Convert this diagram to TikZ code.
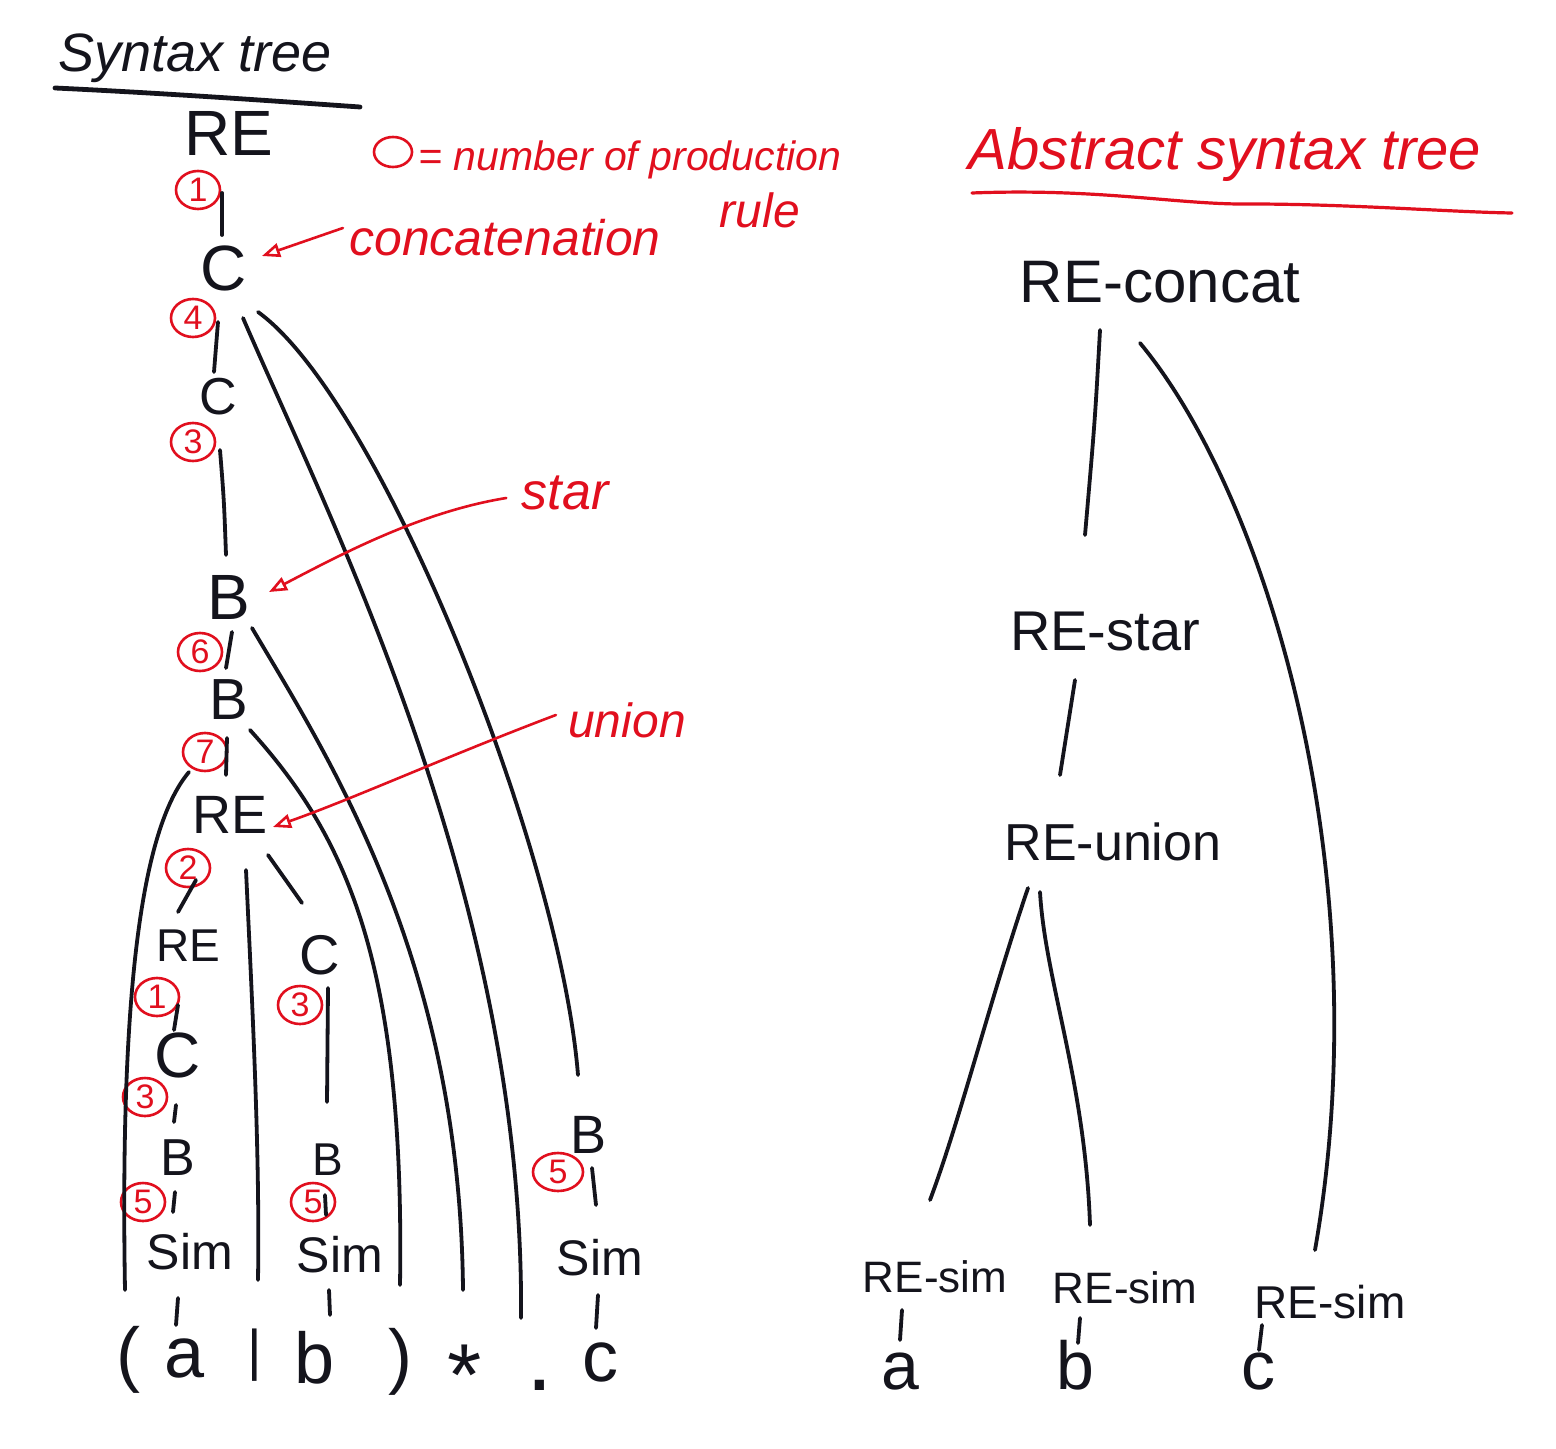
\documentclass[tikz,border=0pt]{standalone}
\usepackage{fontspec}
\setmainfont{Liberation Sans}
\usetikzlibrary{calc,arrows.meta,shapes.geometric}
\definecolor{pen}{RGB}{20,20,28}
\definecolor{redpen}{RGB}{225,15,30}
\newcommand\myfs[1]{\fontsize{#1pt}{#1pt}\selectfont}
\tikzset{
  blk/.style={inner sep=0pt, text=pen, font=\myfs{28}},
  tok/.style={inner sep=0pt, text=pen, font=\myfs{36}},
  note/.style={inner sep=0pt, text=redpen, font=\itshape\myfs{24}},
  titletext/.style={inner sep=0pt, text=pen, font=\itshape\myfs{27}},
  num/.style={ellipse, draw=redpen, line width=1.3pt, text=redpen, font=\myfs{17},
              inner sep=0pt, minimum width=22pt, minimum height=19pt},
  edge/.style={draw=pen, line width=1.9pt, line cap=round},
  redarrow/.style={draw=redpen, line width=1.3pt, line cap=round,
                   -{Triangle[open,length=9pt,width=7pt]}}
}
\begin{document}
\begin{tikzpicture}[x=0.5pt,y=-0.5pt]
\useasboundingbox (0,0) rectangle (1556,1449);
\fill[white] (0,0) rectangle (1556,1449);

% ---------------- Syntax tree ----------------
\node[titletext] (t1) at (195,58) {Syntax tree};
\draw[pen, line width=2.4pt, line cap=round] (55,88) .. controls (160,93) and (260,100) .. (360,107);

\node[blk, font=\myfs{32}] (RE0) at (229,133) {RE};
\node[num] (n1) at (198,190) {1};
\node[blk, font=\myfs{32}] (C1) at (224,268) {C};
\node[num] (n4) at (193,318) {4};
\node[blk, font=\myfs{26}] (C2) at (218,397) {C};
\node[num] (n3a) at (193,442) {3};
\node[blk, font=\myfs{32}] (B1) at (229,597) {B};
\node[num] (n6) at (200,652) {6};
\node[blk, font=\myfs{29}] (B2) at (229,700) {B};
\node[num] (n7) at (205,752) {7};
\node[blk, font=\myfs{27}] (RE2) at (230,815) {RE};
\node[num] (n2) at (188,868) {2};
\node[blk, font=\myfs{23}] (RE3) at (188,946) {RE};
\node[num] (n1b) at (157,997) {1};
\node[blk, font=\myfs{32}] (C4) at (178,1055) {C};
\node[num] (n3b) at (145,1097) {3};
\node[blk, font=\myfs{26}] (B4) at (178,1158) {B};
\node[num] (n5a) at (143,1202) {5};
\node[blk, font=\myfs{25}] (Sim1) at (190,1252) {Sim};
\node[blk, font=\myfs{28}] (C3) at (320,955) {C};
\node[num] (n3c) at (300,1005) {3};
\node[blk, font=\myfs{23}] (B5) at (328,1160) {B};
\node[num] (n5b) at (313,1202) {5};
\node[blk, font=\myfs{25}] (Sim2) at (340,1255) {Sim};
\node[blk, font=\myfs{27}] (B3) at (588,1135) {B};
\node[num, minimum width=25pt] (n5c) at (558,1172) {5};
\node[blk, font=\myfs{25}] (Sim3) at (600,1258) {Sim};

% leaves
\node[tok] (lp) at (128,1360) {(};
\node[tok] (la) at (185,1358) {a};
\node[tok, font=\myfs{28}] (lbar) at (255,1355) {|};
\node[tok] (lb) at (315,1358) {b};
\node[tok] (rp) at (400,1362) {)};
\node[tok, font=\myfs{44}] (lstar) at (465,1375) {*};
\node[tok, font=\myfs{48}] (ldot) at (540,1385) {.};
\node[tok] (lc) at (600,1362) {c};

% straight edges
\draw[edge] ($(RE0)+(-7,60)$) -- ($(C1)+(-2,-33)$);
\draw[edge] ($(C1)+(-6,54)$) -- ($(C2)+(-4,-25)$);
\draw[edge] ($(C2)+(2,53)$) .. controls (224,500) .. ($(B1)+(-3,-42)$);
\draw[edge] ($(B1)+(3,35)$) -- ($(B2)+(-3,-32)$);
\draw[edge] ($(B2)+(-2,38)$) -- ($(RE2)+(-4,-40)$);
\draw[edge] ($(RE2)+(-34,65)$) -- ($(RE3)+(-10,-34)$);
\draw[edge] ($(RE2)+(16,55)$) .. controls (252,1000) and (260,1150) .. ($(lbar)+(3,-75)$);
\draw[edge] ($(RE2)+(38,40)$) -- ($(C3)+(-18,-52)$);
\draw[edge] ($(RE3)+(-10,59)$) -- ($(C4)+(-4,-25)$);
\draw[edge] ($(C4)+(-2,50)$) -- ($(B4)+(-4,-36)$);
\draw[edge] ($(B4)+(-3,34)$) -- ($(Sim1)+(-17,-40)$);
\draw[edge] ($(Sim1)+(-12,46)$) -- ($(la)+(-9,-33)$);
\draw[edge] ($(C3)+(8,33)$) -- ($(B5)+(-1,-58)$);
\draw[edge] ($(B5)+(-3,35)$) -- ($(Sim2)+(-14,-40)$);
\draw[edge] ($(Sim2)+(-11,35)$) -- ($(lb)+(15,-43)$);
\draw[edge] ($(B3)+(4,33)$) -- ($(Sim3)+(-4,-53)$);
\draw[edge] ($(Sim3)+(-2,37)$) -- ($(lc)+(-4,-34)$);

% long curved edges
\draw[edge] ($(B2)+(-40,72)$) .. controls (140,830) and (120,1000) .. ($(lp)+(-3,-70)$);
\draw[edge] ($(B2)+(21,30)$) .. controls (345,835) and (405,960) .. ($(rp)+(0,-77)$);
\draw[edge] ($(B1)+(23,31)$) .. controls (330,760) and (460,960) .. ($(lstar)+(-2,-85)$);
\draw[edge] ($(C1)+(19,50)$) .. controls (330,520) and (525,900) .. ($(ldot)+(-19,-67)$);
\draw[edge] ($(C1)+(34,44)$) .. controls (380,400) and (560,850) .. ($(B3)+(-10,-60)$);

% red annotations
\node[num, minimum width=19pt, minimum height=15pt] (leg) at (393,152) {};
\node[note, anchor=west, font=\itshape\myfs{20.5}] (legtxt) at (418,160) {= number of production};
\node[note] (rule) at (760,210) {rule};
\node[note, font=\itshape\myfs{25}] (concat) at (505,238) {concatenation};
\node[note, font=\itshape\myfs{26}] (star) at (565,493) {star};
\node[note] (union) at (627,720) {union};

\draw[redarrow] ($(concat.west)+(-6,-10)$) -- ($(C1)+(38,-12)$);
\draw[redarrow] ($(star.west)+(-15,5)$) .. controls (420,512) and (340,555) .. ($(B1)+(40,-5)$);
\draw[redarrow] ($(union.west)+(-12,-5)$) .. controls (450,755) and (350,800) .. ($(RE2)+(43,12)$);

% ---------------- Abstract syntax tree ----------------
\node[note, font=\itshape\myfs{29}] (t2) at (1225,155) {Abstract syntax tree};
\draw[redpen, line width=1.6pt, line cap=round] (972,193) .. controls (1100,188) and (1180,205) .. (1250,204) .. controls (1350,204) and (1450,212) .. (1512,213);

\node[blk, font=\myfs{30}] (AC) at (1160,282) {RE-concat};
\node[blk, font=\myfs{28}] (AS) at (1105,632) {RE-star};
\node[blk, font=\myfs{26}] (AU) at (1113,842) {RE-union};
\node[blk, font=\myfs{22}] (AS1) at (935,1277) {RE-sim};
\node[blk, font=\myfs{22}] (AS2) at (1125,1288) {RE-sim};
\node[blk, font=\myfs{23}] (AS3) at (1330,1302) {RE-sim};
\node[tok, font=\myfs{34}] (Aa) at (900,1372) {a};
\node[tok, font=\myfs{34}] (Ab) at (1075,1365) {b};
\node[tok, font=\myfs{34}] (Ac) at (1258,1372) {c};

\draw[edge] ($(AC)+(-60,48)$) .. controls (1095,420) .. ($(AS)+(-20,-97)$);
\draw[edge] ($(AC)+(-20,61)$) .. controls (1270,500) and (1380,880) .. ($(AS3)+(-15,-52)$);
\draw[edge] ($(AS)+(-30,48)$) -- ($(AU)+(-53,-67)$);
\draw[edge] ($(AU)+(-85,46)$) .. controls (990,1000) and (960,1120) .. ($(AS1)+(-5,-77)$);
\draw[edge] ($(AU)+(-73,50)$) .. controls (1045,980) and (1085,1080) .. ($(AS2)+(-35,-63)$);
\draw[edge] ($(AS1)+(-33,33)$) -- ($(Aa)+(0,-32)$);
\draw[edge] ($(AS2)+(-45,30)$) -- ($(Ab)+(3,-22)$);
\draw[edge] ($(AS3)+(-68,23)$) -- ($(Ac)+(1,-22)$);
\end{tikzpicture}
\end{document}
